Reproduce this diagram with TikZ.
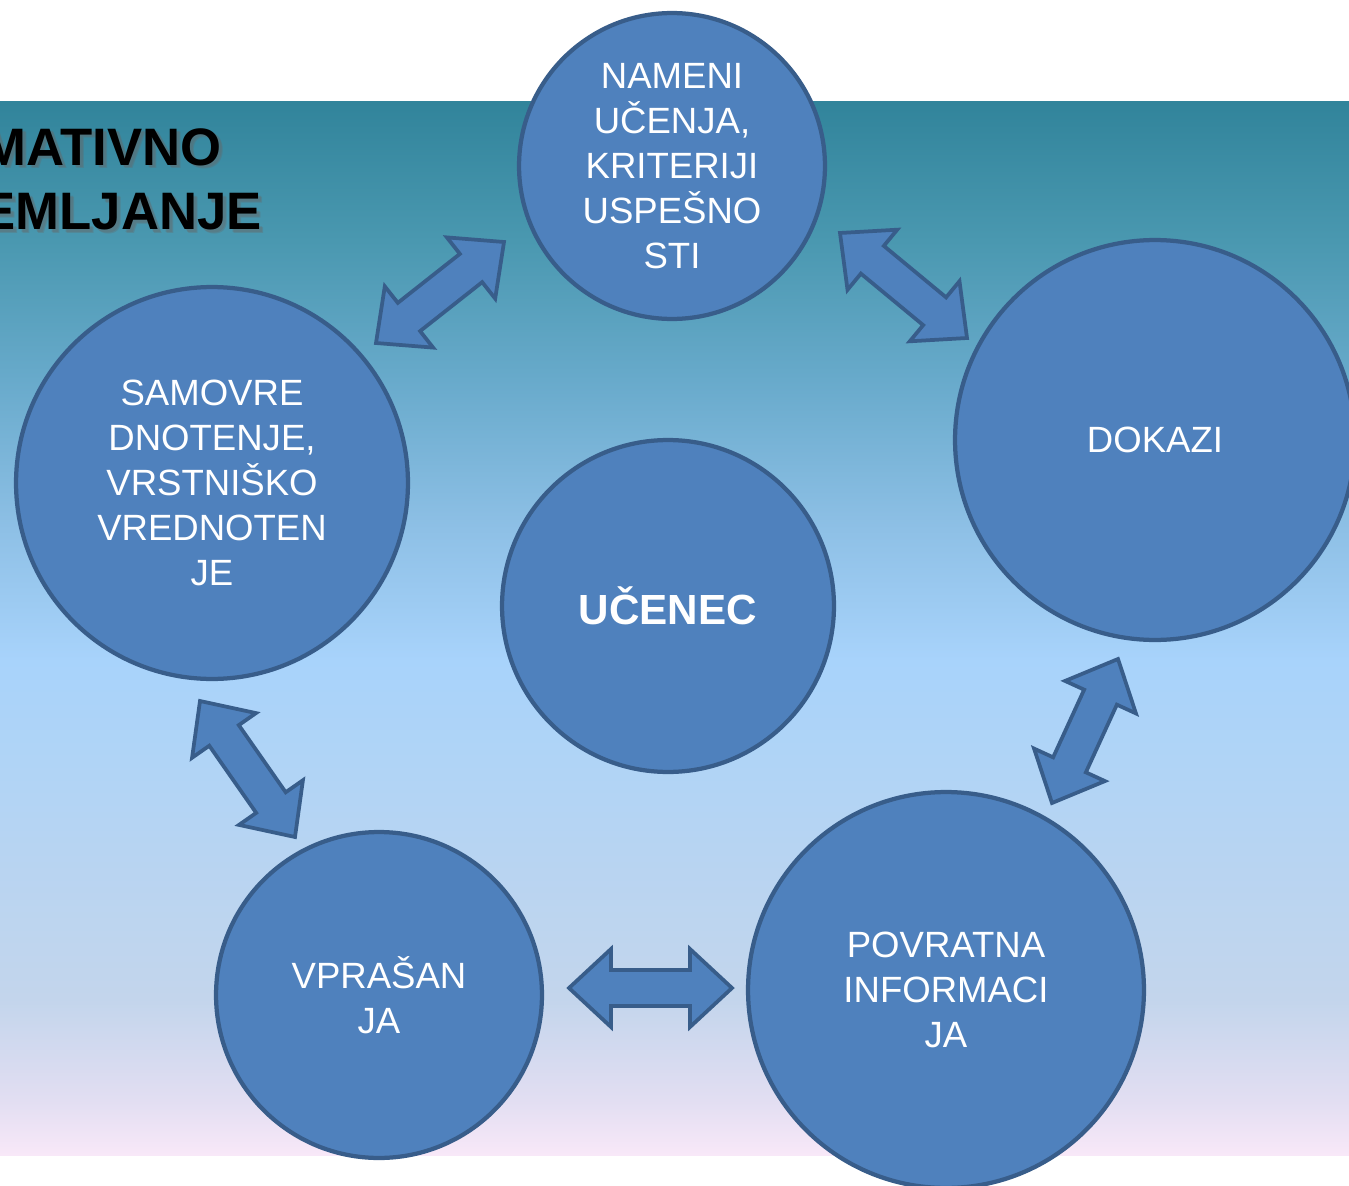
\documentclass[tikz,border=0pt]{standalone}
\usepackage{fontspec}
\setmainfont{Liberation Sans}
\usetikzlibrary{calc}
\definecolor{bgA}{HTML}{F8E8F8}
\definecolor{bgB}{HTML}{E2DEF2}
\definecolor{bgC}{HTML}{C3D5EC}
\definecolor{bgD}{HTML}{B3D4F4}
\definecolor{bgE}{HTML}{A8D3FB}
\definecolor{bgF}{HTML}{8EC0E6}
\definecolor{bgG}{HTML}{68AACB}
\definecolor{bgH}{HTML}{4A98B0}
\definecolor{bgI}{HTML}{31849B}
\definecolor{cfill}{HTML}{4F81BD}
\definecolor{cline}{HTML}{385D8A}
\pgfdeclareverticalshading{bgshade}{100bp}{color(0bp)=(bgA); color(25bp)=(bgA); color(27.6bp)=(bgB); color(32.4bp)=(bgC); color(41.9bp)=(bgD); color(48.5bp)=(bgE); color(54.7bp)=(bgF); color(61.8bp)=(bgG); color(68.4bp)=(bgH); color(75bp)=(bgI); color(100bp)=(bgI)}
\def\ah{0.84cm}
\def\aH{0.78cm}
\def\as{0.36cm}
\newcommand{\dblarr}[2]{%
  \coordinate (p1) at ($(#1)!\ah!(#2)$);
  \coordinate (p2) at ($(#2)!\ah!(#1)$);
  \draw[blockarr] (#1) -- ($(p1)!\aH!90:(#2)$) -- ($(p1)!\as!90:(#2)$)
    -- ($(p2)!\as!-90:(#1)$) -- ($(p2)!\aH!-90:(#1)$) -- (#2)
    -- ($(p2)!\aH!90:(#1)$) -- ($(p2)!\as!90:(#1)$)
    -- ($(p1)!\as!-90:(#2)$) -- ($(p1)!\aH!-90:(#2)$) -- cycle;
}
\tikzset{
  circ/.style={circle, fill=cfill, draw=cline, line width=0.085cm, text=white,
    align=center, inner sep=0pt, font=\fontsize{20.8}{25.6}\selectfont},
  blockarr/.style={fill=cfill, draw=cline, line width=0.075cm, line join=miter},
  title/.style={font=\fontsize{30}{36}\selectfont\bfseries, anchor=base east, inner sep=0pt},
  tshadow/.style={title, text=black!60, opacity=0.3}
}
\begin{document}
\begin{tikzpicture}[x=0.02cm,y=-0.02cm]
\useasboundingbox (0,0) rectangle (1349,1186);
\clip (0,0) rectangle (1349,1186);
\fill[white] (0,0) rectangle (1349,1186);
\shade[shading=bgshade] (0,102) rectangle (1349,1155);
% title
\node[tshadow] (t1s) at (225,168) {MATIVNO};
\node[tshadow] (t2s) at (265,232) {EMLJANJE};
\node[tshadow] (t1s2) at (226,169) {MATIVNO};
\node[tshadow] (t2s2) at (266,233) {EMLJANJE};
\node[title] (t1) at (222,165) {MATIVNO};
\node[title] (t2) at (262,229) {EMLJANJE};
% arrows
\coordinate (a1s) at (376,343);
\coordinate (a1e) at (504,242);
\coordinate (a2s) at (840,233);
\coordinate (a2e) at (967,338);
\coordinate (a3s) at (1118,659);
\coordinate (a3e) at (1052,803);
\coordinate (a4s) at (569,988);
\coordinate (a4e) at (732,988);
\coordinate (a5s) at (200,701);
\coordinate (a5e) at (295,837);
\dblarr{a1s}{a1e}
\dblarr{a2s}{a2e}
\dblarr{a3s}{a3e}
\dblarr{a4s}{a4e}
\dblarr{a5s}{a5e}
% circles
\node[circ, minimum size=6.12cm] (nam) at (672,166) {NAMENI\\UČENJA,\\KRITERIJI\\USPEŠNO\\STI};
\node[circ, minimum size=8.0cm] (dok) at (1155,440) {DOKAZI};
\node[circ, minimum size=7.84cm] (sam) at (212,483) {SAMOVRE\\DNOTENJE,\\VRSTNIŠKO\\VREDNOTEN\\JE};
\node[circ, minimum size=6.64cm, font=\fontsize{24}{28}\selectfont\bfseries] (uce) at (668,606) {UČENEC};
\node[circ, minimum size=6.52cm] (vpr) at (379,995) {VPRAŠAN\\JA};
\node[circ, minimum size=7.92cm] (pov) at (946,990) {POVRATNA\\INFORMACI\\JA};
\end{tikzpicture}
\end{document}
